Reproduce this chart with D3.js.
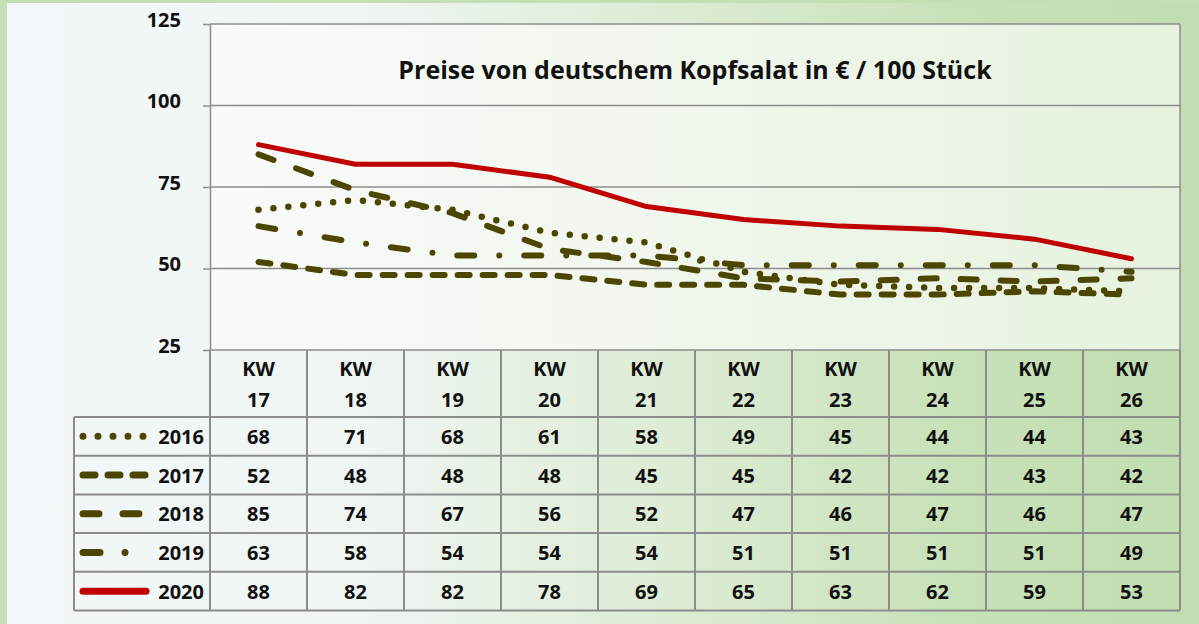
<!DOCTYPE html>
<html>
<head>
<meta charset="utf-8">
<script src="https://cdn.jsdelivr.net/npm/d3@7"></script>
<style>
  body { margin: 0; background: #c5dfb5; }
  svg { display: block; font-family: "Open Sans", "DejaVu Sans", sans-serif; font-weight: bold; }
</style>
</head>
<body>
<script>
// data
var weeks = ["17", "18", "19", "20", "21", "22", "23", "24", "25", "26"];
var years = ["2016", "2017", "2018", "2019", "2020"];
var v2016 = [68, 71, 68, 61, 58, 49, 45, 44, 44, 43];
var v2017 = [52, 48, 48, 48, 45, 45, 42, 42, 43, 42];
var v2018 = [85, 74, 67, 56, 52, 47, 46, 47, 46, 47];
var v2019 = [63, 58, 54, 54, 54, 51, 51, 51, 51, 49];
var v2020 = [88, 82, 82, 78, 69, 65, 63, 62, 59, 53];
var yTicks = [25, 50, 75, 100, 125];
var title = "Preise von deutschem Kopfsalat in € / 100 Stück";

var series = [
  { year: years[0], values: v2016, color: "#4b4600", dash: "0 15", w: 6.5 },
  { year: years[1], values: v2017, color: "#4b4600", dash: "12 13", w: 6 },
  { year: years[2], values: v2018, color: "#4b4600", dash: "16 24", w: 6 },
  { year: years[3], values: v2019, color: "#4b4600", dash: "17 25 0 25", w: 6 },
  { year: years[4], values: v2020, color: "#c00000", dash: null, w: 5 }
];

var W = 1199, H = 624;
var svg = d3.select("body").append("svg").attr("width", W).attr("height", H);

var defs = svg.append("defs");
var pg = defs.append("linearGradient").attr("id", "panel").attr("x1", 0).attr("x2", 1).attr("y1", 0).attr("y2", 0);
pg.append("stop").attr("offset", 0).attr("stop-color", "#f3f7fb");
pg.append("stop").attr("offset", 0.3).attr("stop-color", "#eff5f2");
pg.append("stop").attr("offset", 0.55).attr("stop-color", "#deecd6");
pg.append("stop").attr("offset", 0.8).attr("stop-color", "#c8e1b8");
pg.append("stop").attr("offset", 1).attr("stop-color", "#c3ddb2");

var ag = defs.append("linearGradient").attr("id", "plotbg").attr("x1", 0).attr("x2", 1).attr("y1", 0).attr("y2", 0);
ag.append("stop").attr("offset", 0).attr("stop-color", "#f9fbfa");
ag.append("stop").attr("offset", 1).attr("stop-color", "#e7f2df");

// outer panel
svg.append("rect").attr("x", 7).attr("y", 3).attr("width", W - 7).attr("height", H - 3).attr("fill", "url(#panel)");

var x = d3.scaleBand().domain(weeks).range([210, 1180]);
var y = d3.scaleLinear().domain([25, 125]).range([350, 24]);
var left = x.range()[0], right = x.range()[1];

// plot area
svg.append("rect").attr("x", left).attr("y", y(125)).attr("width", right - left).attr("height", y(25) - y(125))
  .attr("fill", "url(#plotbg)");

svg.append("g").selectAll("line").data(yTicks).join("line")
  .attr("x1", left).attr("x2", right)
  .attr("y1", function(d){ return y(d); }).attr("y2", function(d){ return y(d); })
  .attr("stroke", "#8c8c8c").attr("stroke-width", 1.5);

svg.append("line").attr("x1", right).attr("x2", right).attr("y1", y(125)).attr("y2", y(25))
  .attr("stroke", "#8c8c8c").attr("stroke-width", 1.5);

var yAxis = svg.append("g").attr("transform", "translate(" + left + ",0)")
  .call(d3.axisLeft(y).tickValues(yTicks).tickSize(7).tickPadding(22).tickSizeOuter(0));
yAxis.select(".domain").attr("stroke", "#8c8c8c").attr("stroke-width", 1.5);
yAxis.selectAll(".tick line").attr("stroke", "#8c8c8c").attr("stroke-width", 1.5);
yAxis.selectAll(".tick text").attr("font-size", 20).attr("font-weight", "bold")
  .attr("font-family", "'Open Sans', sans-serif").attr("fill", "#111").attr("dy", "0.1em");

// title
svg.append("text").attr("x", 695).attr("y", 79).attr("text-anchor", "middle")
  .attr("font-size", 25).attr("fill", "#111").text(title);

// lines
var line = d3.line()
  .x(function(d, i){ return x(weeks[i]) + x.bandwidth() / 2; })
  .y(function(d){ return y(d); });

svg.append("g").selectAll("path").data(series).join("path")
  .attr("d", function(s){ return line(s.values); })
  .attr("fill", "none")
  .attr("stroke", function(s){ return s.color; })
  .attr("stroke-width", function(s){ return s.w; })
  .attr("stroke-linecap", "round")
  .attr("stroke-linejoin", "round")
  .attr("stroke-dasharray", function(s){ return s.dash; });

// data table
var headTop = y(25), rowTop = 417, rowH = 38.7, legLeft = 74;
var tableBottom = rowTop + rowH * series.length;
var grid = svg.append("g").attr("stroke", "#8c8c8c").attr("stroke-width", 2);

grid.selectAll("line.v").data(x.domain().concat(["end"])).join("line")
  .attr("x1", function(d){ return d === "end" ? right : x(d); })
  .attr("x2", function(d){ return d === "end" ? right : x(d); })
  .attr("y1", headTop).attr("y2", tableBottom);
grid.append("line").attr("x1", legLeft).attr("x2", legLeft).attr("y1", rowTop).attr("y2", tableBottom);
grid.selectAll("line.h").data(d3.range(series.length + 1)).join("line")
  .attr("x1", legLeft).attr("x2", right)
  .attr("y1", function(i){ return rowTop + i * rowH; })
  .attr("y2", function(i){ return rowTop + i * rowH; });

var head = svg.append("g").selectAll("g").data(weeks).join("g")
  .attr("transform", function(d){ return "translate(" + (x(d) + x.bandwidth() / 2) + ",0)"; })
  .attr("text-anchor", "middle").attr("font-size", 20).attr("fill", "#111");
head.append("text").attr("y", 376).text("KW");
head.append("text").attr("y", 407).text(function(d){ return d; });

var rows = svg.append("g").selectAll("g").data(series).join("g")
  .attr("transform", function(s, i){ return "translate(0," + (rowTop + i * rowH + rowH / 2) + ")"; });

rows.selectAll("text.val").data(function(s){ return s.values; }).join("text")
  .attr("x", function(d, i){ return x(weeks[i]) + x.bandwidth() / 2; })
  .attr("y", 7.5).attr("text-anchor", "middle").attr("font-size", 20).attr("fill", "#111")
  .text(function(d){ return d; });

rows.append("text").attr("x", 204).attr("y", 7.5).attr("text-anchor", "end")
  .attr("font-size", 20).attr("fill", "#111").text(function(s){ return s.year; });

rows.append("line").attr("x1", 83).attr("x2", 146).attr("y1", 0).attr("y2", 0)
  .attr("stroke", function(s){ return s.color; })
  .attr("stroke-width", 7)
  .attr("stroke-linecap", "round")
  .attr("stroke-dasharray", function(s){ return s.dash; });
</script>
</body>
</html>
